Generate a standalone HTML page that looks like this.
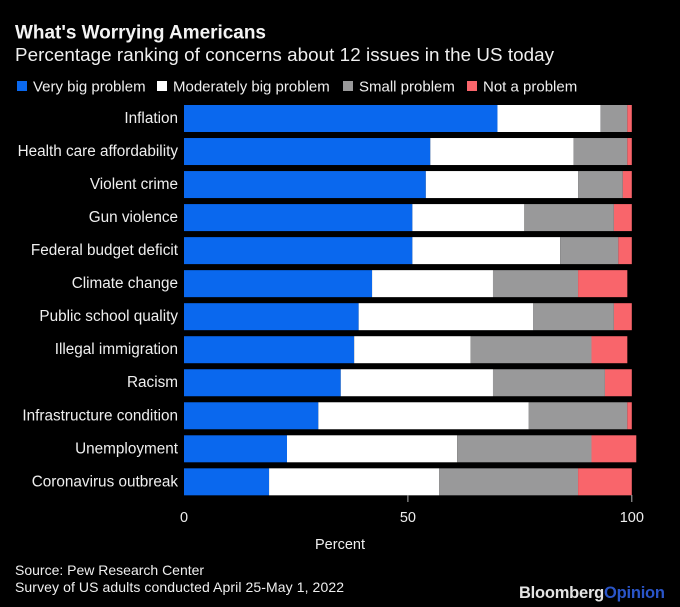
<!DOCTYPE html>
<html lang="en">
<head>
<meta charset="utf-8">
<title>What's Worrying Americans</title>
<style>
html,body{margin:0;padding:0;background:#000;}
body{width:680px;height:607px;overflow:hidden;}
svg{display:block;font-family:"Liberation Sans",Arial,sans-serif;}
text{fill:#efefef;}
</style>
</head>
<body>
<svg id="chart" width="680" height="607" viewBox="0 0 680 607" xmlns="http://www.w3.org/2000/svg">
  <rect x="0" y="0" width="680" height="607" fill="#000"/>
  <text x="15" y="38.5" font-size="19" font-weight="700" textLength="251" lengthAdjust="spacing" style="fill:#f4f4f4">What's Worrying Americans</text>
  <text x="15" y="61" font-size="18.8" textLength="539" lengthAdjust="spacing">Percentage ranking of concerns about 12 issues in the US today</text>
  <g id="legend"></g>
  <g id="bars"></g>
  <g id="categories"></g>
  <g id="axis"></g>
  <text x="340" y="549" font-size="14.5" text-anchor="middle">Percent</text>
  <text x="15" y="575" font-size="14">Source: Pew Research Center</text>
  <text x="15" y="592" font-size="14" textLength="329" lengthAdjust="spacing">Survey of US adults conducted April 25-May 1, 2022</text>
  <text x="519" y="598" font-size="16.5" font-weight="700" textLength="146" lengthAdjust="spacing"><tspan style="fill:#e4e4e4">Bloomberg</tspan><tspan style="fill:#2a55c8">Opinion</tspan></text>
</svg>
<script>
const categories = ["Inflation","Health care affordability","Violent crime","Gun violence","Federal budget deficit","Climate change","Public school quality","Illegal immigration","Racism","Infrastructure condition","Unemployment","Coronavirus outbreak"];
const veryBig = [70,55,54,51,51,42,39,38,35,30,23,19];
const moderatelyBig = [23,32,34,25,33,27,39,26,34,47,38,38];
const small = [6,12,10,20,13,19,18,27,25,22,30,31];
const notAProblem = [1,1,2,4,3,11,4,8,6,1,10,12];
const seriesNames = ["Very big problem","Moderately big problem","Small problem","Not a problem"];
const xTicks = [0,50,100];

const NS = "http://www.w3.org/2000/svg";
const allSeries = [veryBig, moderatelyBig, small, notAProblem];
const seriesColors = ["#0a68ee","#ffffff","#99999a","#f9656b"];
const seriesSlugs = ["very-big","moderately-big","small","not-a-problem"];
const legendBoxX = [17,157,343,467];
const xScale = v => 184 + v * 4.478;
const yScale = i => 105 + i * 33.03;
const barHeight = 27;

function make(tag, attrs, parent, content) {
  const el = document.createElementNS(NS, tag);
  for (const k in attrs) el.setAttribute(k, attrs[k]);
  if (content !== undefined) el.textContent = content;
  parent.appendChild(el);
  return el;
}

const legend = document.getElementById("legend");
seriesNames.forEach((name, s) => {
  const swatch = make("rect", {x: legendBoxX[s], y: 81, width: 10, height: 10, fill: seriesColors[s]}, legend);
  
  
  const label = make("text", {x: legendBoxX[s] + 16, y: 91.5, "font-size": 15}, legend, name);
  
  
});

const bars = document.getElementById("bars");
const catGroup = document.getElementById("categories");
categories.forEach((cat, i) => {
  let cum = 0;
  const slug = cat.toLowerCase().replace(/\s+/g, "-");
  allSeries.forEach((values, s) => {
    const v = values[i];
    const seg = make("rect", {
      x: xScale(cum), y: yScale(i),
      width: xScale(cum + v) - xScale(cum), height: barHeight,
      fill: seriesColors[s]
    }, bars);
    
    
    cum += v;
  });
  const label = make("text", {x: 178, y: yScale(i) + 18, "font-size": 15.3, "text-anchor": "end"}, catGroup, cat);
  
  
});

const axis = document.getElementById("axis");
xTicks.forEach(t => {
  if (t > 0) {
    const tick = make("line", {x1: xScale(t), x2: xScale(t), y1: 495, y2: 502, stroke: "#b5b5b5", "stroke-width": 1}, axis);
    
    
  }
  const label = make("text", {x: xScale(t), y: 522, "font-size": 14.5, "text-anchor": "middle"}, axis, String(t));
  
  
});
</script>
</body>
</html>
